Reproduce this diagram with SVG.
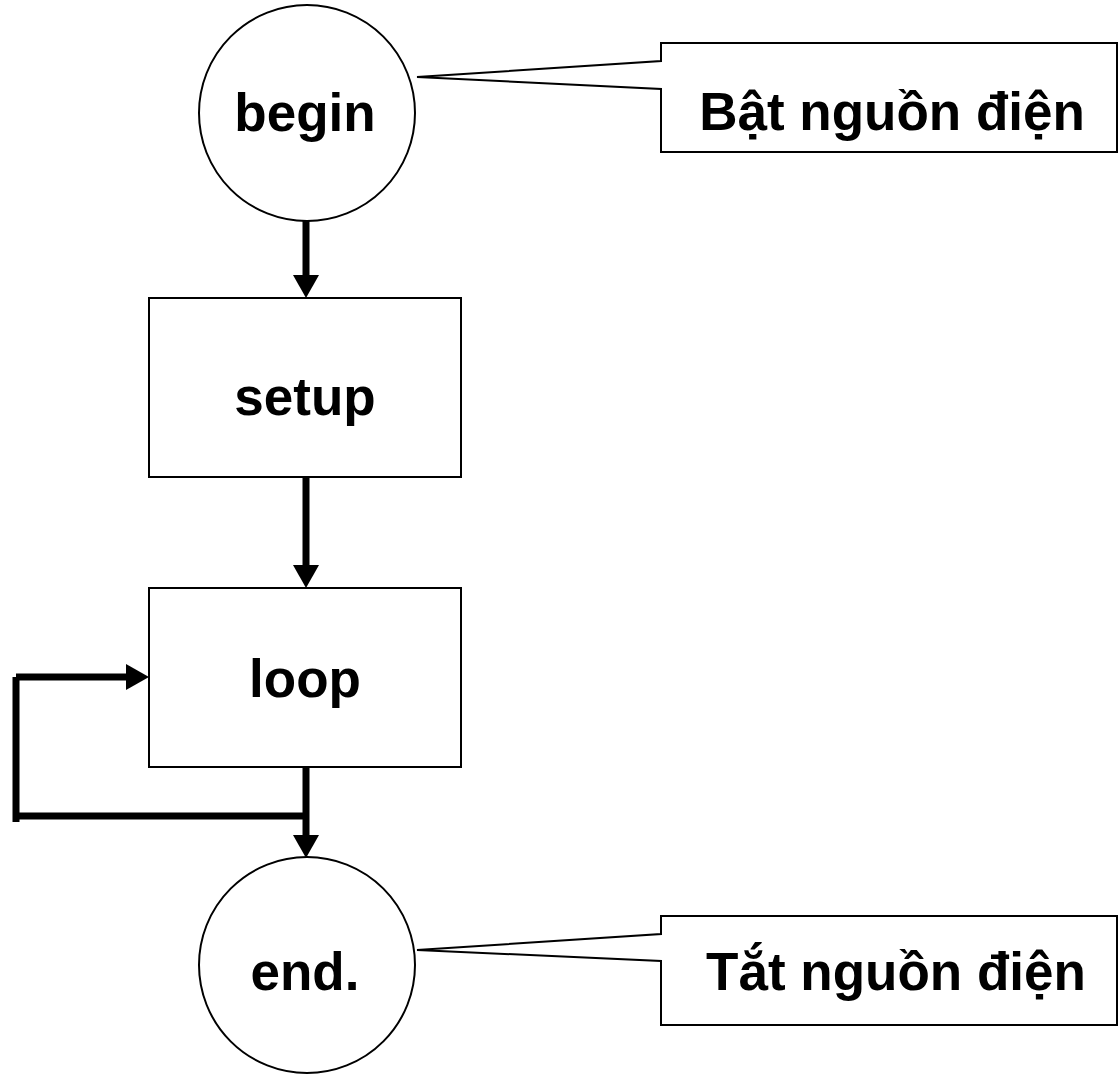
<svg xmlns="http://www.w3.org/2000/svg" width="1119" height="1074" viewBox="0 0 1119 1074">
<style>
.shape{fill:#fff;stroke:#000;stroke-width:2}
.lbl{font-family:"Liberation Sans",Arial,sans-serif;font-weight:bold;font-size:53px;fill:#000;text-anchor:middle}
.conn{stroke:#000;stroke-width:7;fill:none}
.head{fill:#000;stroke:none}
</style>
<rect width="1119" height="1074" fill="#fff"/>
<g id="connectors">
<line class="conn" x1="306" y1="221" x2="306" y2="278"/>
<polygon class="head" points="293,275 319,275 306,298"/>
<line class="conn" x1="306" y1="477" x2="306" y2="568"/>
<polygon class="head" points="293,565 319,565 306,588"/>
<line class="conn" x1="306" y1="767" x2="306" y2="838"/>
<polygon class="head" points="293,835 319,835 306,858"/>
<line class="conn" x1="306" y1="816" x2="16" y2="816"/>
<line class="conn" x1="16" y1="822" x2="16" y2="677"/>
<line class="conn" x1="16" y1="677" x2="129" y2="677"/>
<polygon class="head" points="126,664 126,690 149,677"/>
</g>
<g id="begin">
<circle class="shape" cx="307" cy="113" r="108"/>
<text class="lbl" x="305" y="131">begin</text>
</g>
<g id="setup">
<rect class="shape" x="149" y="298" width="312" height="179"/>
<text class="lbl" x="305" y="415">setup</text>
</g>
<g id="loop">
<rect class="shape" x="149" y="588" width="312" height="179"/>
<text class="lbl" x="305" y="697">loop</text>
</g>
<g id="end">
<circle class="shape" cx="307" cy="965" r="108"/>
<text class="lbl" x="305" y="990">end.</text>
</g>
<g id="callout-on">
<path class="shape" d="M661,43 H1117 V152 H661 V89 L417,77 L661,61 Z"/>
<text class="lbl" x="892" y="130">Bật nguồn điện</text>
</g>
<g id="callout-off">
<path class="shape" d="M661,916 H1117 V1025 H661 V961 L417,950 L661,934 Z"/>
<text class="lbl" x="896" y="990">Tắt nguồn điện</text>
</g>
</svg>
